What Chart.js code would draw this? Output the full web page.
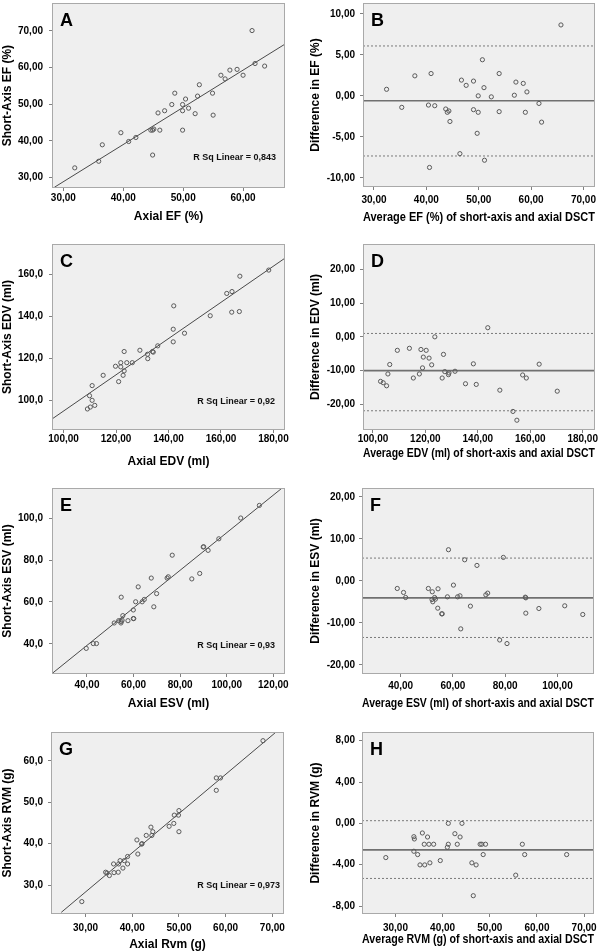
<!DOCTYPE html>
<html>
<head>
<meta charset="utf-8">
<script src="https://cdn.jsdelivr.net/npm/chart.js@4/dist/chart.umd.min.js"></script>
<style>
  html, body { margin: 0; padding: 0; background: #ffffff; }
  #wrap { position: relative; width: 609px; height: 952px; overflow: hidden; }
  .pan { position: absolute; }
</style>
</head>
<body>
<div id="wrap"></div>
<script>
// ---------- DATA ----------
// Panel A: Axial EF vs Short-Axis EF
const aX = [31.9,35.9,36.5,39.6,40.9,42.1,44.6,44.9,45.1,44.9,46.1,45.8,46.9,48.1,48.6,49.9,49.9,49.9,50.4,50.9,52.0,52.4,52.7,54.9,55.0,56.3,57.0,57.8,59.0,60.0,61.5,62.0,63.6];
const aY = [32.6,34.4,38.9,42.2,39.8,40.9,42.9,42.9,43.2,36.1,42.9,47.6,48.2,49.9,53.0,49.9,48.2,42.9,51.4,48.9,47.4,52.2,55.3,53.0,47.0,57.9,56.9,59.3,59.5,57.9,70.1,61.1,60.4];
const aFitX = [28.5, 67.0];
const aFitY = [27.3, 66.4];
const aRsq = "R Sq Linear = 0,843";
const aXTicks = ["30,00","40,00","50,00","60,00"];
const aYTicks = ["30,00","40,00","50,00","60,00","70,00"];

// Panel B: Bland-Altman EF
const bX = [32.4,35.3,37.8,40.4,40.9,40.6,41.6,43.7,44.0,44.3,44.5,46.7,46.4,47.6,49.0,49.0,49.7,49.9,49.9,50.7,51.0,51.1,52.4,53.9,53.9,56.8,57.1,58.5,58.9,59.2,61.5,62.0,65.7];
const bY = [0.8,-1.4,2.44,-1.12,2.72,-8.72,-1.2,-1.6,-2.0,-1.84,-3.12,1.92,-7.04,1.28,1.8,-1.68,-4.56,0,-2.0,4.4,1.0,-7.84,-0.12,2.72,-1.92,0.08,1.68,1.52,-2.0,0.48,-0.92,-3.2,8.64];
const bLimits = [-0.6, 6.08, -7.32];   // mean, upper, lower
const bXTicks = ["30,00","40,00","50,00","60,00","70,00"];
const bYTicks = ["-10,00","-5,00","0,00","5,00","10,00"];

// Panel C: Axial EDV vs Short-Axis EDV
const cX = [109.1,110.2,111.9,109.9,110.9,110.9,115.1,119.8,121.0,121.8,121.8,122.7,123.1,123.1,124.1,126.2,129.1,132.0,132.1,133.9,134.2,135.9,141.8,142.0,141.8,146.1,155.9,162.2,164.2,164.1,167.0,167.2,178.2];
const cY = [95.9,96.8,97.6,102.2,100.0,107.0,111.9,116.2,108.9,117.9,115.9,111.9,114.0,123.2,117.9,117.9,123.8,121.9,119.8,123.2,122.9,125.9,133.8,144.9,127.8,131.9,140.2,150.8,151.7,141.9,142.2,159.0,161.9];
const cFitX = [95.0, 185.0];
const cFitY = [90.6, 168.1];
const cRsq = "R Sq Linear = 0,92";
const cXTicks = ["100,00","120,00","140,00","160,00","180,00"];
const cYTicks = ["100,0","120,0","140,0","160,0"];

// Panel D: Bland-Altman EDV
const dX = [102.9,103.9,105.2,105.7,106.4,109.3,113.9,115.4,117.7,118.3,118.9,119.2,120.3,121.4,122.4,123.6,126.4,126.9,127.4,128.8,129.0,131.3,135.3,138.3,139.4,143.8,148.4,153.4,154.9,157.1,158.5,163.4,170.3];
const dY = [-13.2,-13.6,-14.5,-11.0,-8.2,-4.0,-3.4,-12.2,-11.0,-3.75,-9.2,-6.0,-4.0,-6.3,-8.3,0,-12.2,-5.2,-10.3,-11.2,-10.7,-10.2,-13.9,-8.0,-14.1,2.7,-15.8,-22.1,-24.7,-11.3,-12.2,-8.1,-16.1];
const dLimits = [-10.0, 1.0, -21.9];
const dXTicks = ["100,00","120,00","140,00","160,00","180,00"];
const dYTicks = ["-20,00","-10,00","0,00","10,00","20,00"];

// Panel E: Axial ESV vs Short-Axis ESV
const eX = [39.7,42.7,44.1,51.7,53.6,54.6,54.7,55.1,55.4,54.7,57.6,59.9,60.1,59.9,60.9,62.0,63.7,64.6,67.6,68.7,69.9,74.4,74.9,76.6,85.0,88.4,89.9,90.1,92.0,96.6,106.0,114.0];
const eY = [37.9,40.2,40.2,50.0,51.1,50.0,50.7,51.3,53.5,62.3,51.1,52.1,52.1,56.2,60.1,67.2,60.1,61.2,71.4,57.7,64.0,71.4,72.0,82.3,71.0,73.6,86.2,86.3,84.6,90.1,100.0,106.0];
const eFitX = [25.0, 125.0];
const eFitY = [25.9, 115.4];
const eRsq = "R Sq Linear = 0,93";
const eXTicks = ["40,00","60,00","80,00","100,00","120,00"];
const eYTicks = ["40,0","60,0","80,0","100,0"];

// Panel F: Bland-Altman ESV
const fX = [38.7,41.1,41.9,50.6,52.1,52.0,52.3,53.0,53.3,54.2,54.3,55.7,55.9,57.9,58.3,60.2,61.8,62.7,63.0,64.5,66.7,69.2,72.6,73.3,77.9,79.3,80.7,87.7,87.9,87.9,92.9,102.8,109.7];
const fY = [-1.83,-2.78,-3.98,-1.83,-2.62,-4.45,-5.0,-3.98,-4.37,-6.52,-1.91,-7.87,-7.87,-3.82,7.4,-1.03,-3.82,-3.58,-11.45,5.0,-6.04,3.66,-3.34,-2.94,-14.1,5.57,-14.95,-3.9,-4.06,-7.71,-6.6,-5.96,-8.03];
const fLimits = [-4.06, 5.41, -13.5];
const fXTicks = ["40,00","60,00","80,00","100,00"];
const fYTicks = ["-20,00","-10,00","0,00","10,00","20,00"];

// Panel G: Axial RVM vs Short-Axis RVM
const gX = [29.2,34.3,34.6,35.1,36.0,36.1,37.0,37.1,37.4,38.0,38.3,39.0,39.0,41.0,41.2,42.0,42.1,43.0,44.0,44.2,44.4,47.9,48.9,49.0,49.9,50.0,50.0,58.0,58.0,58.9,68.0];
const gY = [26.0,33.1,32.9,32.3,35.1,33.0,33.1,35.1,35.9,34.1,35.9,35.1,36.9,40.9,37.5,39.9,40.0,42.0,44.0,42.0,42.9,44.2,44.9,46.9,46.9,48.0,42.9,52.9,55.9,55.9,64.9];
const gFitX = [24.8, 70.6];
const gFitY = [23.4, 66.8];
const gRsq = "R Sq Linear = 0,973";
const gXTicks = ["30,00","40,00","50,00","60,00","70,00"];
const gYTicks = ["30,0","40,0","50,0","60,0"];

// Panel H: Bland-Altman RVM
const hX = [27.95,33.9,34.0,33.9,34.7,35.2,35.7,36.1,36.2,36.8,37.1,37.3,38.1,39.5,41.0,41.2,41.2,42.6,43.1,43.7,44.1,46.2,47.1,46.5,47.95,48.3,48.6,49.1,55.5,56.9,57.4,66.3];
const hY = [-3.31,-1.29,-1.51,-2.7,-3.02,-4.02,-0.93,-2.02,-4.02,-1.32,-2.02,-3.82,-2.02,-3.6,-2.31,-2.02,0,-1.0,-2.02,-1.32,0,-3.82,-4.02,-7.0,-2.02,-2.02,-3.02,-2.02,-5.01,-2.02,-3.02,-3.02];
const hLimits = [-2.57, 0.26, -5.33];
const hXTicks = ["30,00","40,00","50,00","60,00","70,00"];
const hYTicks = ["-8,00","-4,00","0,00","4,00","8,00"];

// ---------- RENDERING ----------
const FONT = "'Liberation Sans', Arial, Helvetica, sans-serif";
Chart.defaults.font.family = FONT;
Chart.defaults.color = '#000';

const toVal = s => parseFloat(s.replace(',', '.'));
const pts = (xs, ys) => xs.map((x, i) => ({ x: x, y: ys[i] }));

const deco = {
  id: 'deco',
  beforeDraw(chart, args, o) {
    const { ctx, chartArea: ca } = chart;
    ctx.save();
    ctx.fillStyle = '#efefef';
    ctx.fillRect(ca.left, ca.top, ca.right - ca.left, ca.bottom - ca.top);
    ctx.restore();
  },
  afterDraw(chart, args, o) {
    const { ctx, chartArea: ca } = chart;
    ctx.save();
    ctx.strokeStyle = '#a9a9a9';
    ctx.lineWidth = 1;
    ctx.strokeRect(Math.round(ca.left) + 0.5, Math.round(ca.top) + 0.5,
                   Math.round(ca.right - ca.left) - 1, Math.round(ca.bottom - ca.top) - 1);
    ctx.fillStyle = '#000';
    ctx.font = 'bold 18px ' + FONT;
    ctx.textAlign = 'left';
    ctx.textBaseline = 'alphabetic';
    ctx.fillText(o.letter, ca.left + 8, ca.top + 23);
    if (o.rsq) {
      ctx.font = 'bold 9px ' + FONT;
      ctx.textAlign = 'right';
      ctx.textBaseline = 'middle';
      ctx.fillStyle = '#111';
      ctx.fillText(o.rsq, ca.right - o.rsqRight, ca.bottom - o.rsqUp);
    }
    ctx.restore();
  }
};

function panel(p) {
  const div = document.createElement('div');
  div.className = 'pan';
  div.style.left = p.left + 'px';
  div.style.top = p.top + 'px';
  div.style.width = p.w + 'px';
  div.style.height = p.h + 'px';
  const cv = document.createElement('canvas');
  cv.width = p.w; cv.height = p.h;
  cv.style.width = p.w + 'px'; cv.style.height = p.h + 'px';
  div.appendChild(cv);
  document.getElementById('wrap').appendChild(div);

  const datasets = [{
    label: 'points',
    data: pts(p.xs, p.ys),
    showLine: false,
    pointRadius: 2.1,
    pointHoverRadius: 2.1,
    pointBorderWidth: 1,
    pointBorderColor: '#5a5a5a',
    pointBackgroundColor: 'rgba(0,0,0,0)'
  }];
  if (p.fitX) {
    datasets.push({
      label: 'fit', data: pts(p.fitX, p.fitY), showLine: true,
      borderColor: '#4a4a4a', borderWidth: 1, pointRadius: 0
    });
  }
  if (p.limits) {
    const [m, up, lo] = p.limits;
    datasets.push({ label: 'mean', data: [{x: p.xr[0], y: m}, {x: p.xr[1], y: m}], showLine: true,
      borderColor: '#707070', borderWidth: 1.6, pointRadius: 0 });
    datasets.push({ label: 'upper', data: [{x: p.xr[0], y: up}, {x: p.xr[1], y: up}], showLine: true,
      borderColor: '#7a7a7a', borderWidth: 1, borderDash: [2, 2], pointRadius: 0 });
    datasets.push({ label: 'lower', data: [{x: p.xr[0], y: lo}, {x: p.xr[1], y: lo}], showLine: true,
      borderColor: '#7a7a7a', borderWidth: 1, borderDash: [2, 2], pointRadius: 0 });
  }

  const xVals = p.xTicks.map(toVal), yVals = p.yTicks.map(toVal);
  const tickFont = { size: 10, weight: 'bold', family: FONT };
  const titleFont = { size: 12, weight: 'bold', family: FONT, lineHeight: 1.2 };

  new Chart(cv, {
    type: 'scatter',
    data: { datasets },
    plugins: [deco],
    options: {
      responsive: false,
      animation: false,
      devicePixelRatio: 1,
      events: [],
      layout: { padding: { left: 0, top: p.padTop, right: p.padRight, bottom: p.padBottom } },
      plugins: {
        legend: { display: false },
        tooltip: { enabled: false },
        deco: { letter: p.letter, rsq: p.rsq, rsqRight: p.rsqRight || 9, rsqUp: p.rsqUp || 29 }
      },
      scales: {
        x: {
          type: 'linear', min: p.xr[0], max: p.xr[1],
          afterBuildTicks: s => { s.ticks = xVals.map(v => ({ value: v })); },
          afterFit: s => { s.height = p.xAxisH; s.paddingLeft = 0; s.paddingRight = 0; s.paddingTop = 0; s.paddingBottom = 0; },
          ticks: { autoSkip: false, maxRotation: 0, minRotation: 0, padding: p.xTickPad,
                   font: tickFont, color: '#000', callback: (v, i) => p.xTicks[i] },
          grid: { display: true, drawOnChartArea: false, drawTicks: true, tickLength: 3, color: '#808080' },
          border: { display: false },
          title: { display: true, text: p.xTitle, font: titleFont, color: '#000', padding: { top: 0, bottom: 0 } }
        },
        y: {
          type: 'linear', min: p.yr[0], max: p.yr[1],
          afterBuildTicks: s => { s.ticks = yVals.map(v => ({ value: v })); },
          afterFit: s => { s.width = p.yAxisW; s.paddingLeft = 0; s.paddingRight = 0; s.paddingTop = 0; s.paddingBottom = 0; },
          ticks: { autoSkip: false, padding: p.yTickPad, font: tickFont, color: '#000',
                   callback: (v, i) => p.yTicks[i] },
          grid: { display: true, drawOnChartArea: false, drawTicks: true, tickLength: 3, color: '#808080' },
          border: { display: false },
          title: { display: true, text: p.yTitle, font: titleFont, color: '#000', padding: { top: p.yTitlePad, bottom: 0 } }
        }
      }
    }
  });
}

panel({ letter: 'A', left: 0, top: 0, w: 305, h: 235, padTop: 1, padRight: 20, padBottom: 11,
  yAxisW: 52, xAxisH: 36, xTickPad: 1, yTickPad: 6, yTitlePad: 0,
  xs: aX, ys: aY, fitX: aFitX, fitY: aFitY, rsq: aRsq, rsqRight: 9, rsqUp: 30,
  xr: [28.1, 67.0], yr: [27.1, 77.6], xTicks: aXTicks, yTicks: aYTicks,
  xTitle: 'Axial EF (%)', yTitle: 'Short-Axis EF (%)' });

panel({ letter: 'B', left: 305, top: 0, w: 304, h: 235, padTop: 0, padRight: 14, padBottom: 10,
  yAxisW: 58, xAxisH: 38, xTickPad: 4, yTickPad: 5, yTitlePad: 3,
  xs: bX, ys: bY, limits: bLimits,
  xr: [27.9, 72.2], yr: [-11.1, 11.3], xTicks: bXTicks, yTicks: bYTicks,
  xTitle: 'Average EF (%) of short-axis and axial DSCT', yTitle: 'Difference in EF (%)' });

panel({ letter: 'C', left: 0, top: 235, w: 305, h: 235, padTop: 9, padRight: 20, padBottom: 1,
  yAxisW: 52, xAxisH: 39, xTickPad: 0, yTickPad: 6, yTitlePad: 0,
  xs: cX, ys: cY, fitX: cFitX, fitY: cFitY, rsq: cRsq, rsqRight: 10, rsqUp: 28,
  xr: [95.6, 184.4], yr: [85.9, 174.3], xTicks: cXTicks, yTicks: cYTicks,
  xTitle: 'Axial EDV (ml)', yTitle: 'Short-Axis EDV (ml)' });

panel({ letter: 'D', left: 305, top: 235, w: 304, h: 235, padTop: 9, padRight: 14, padBottom: 9,
  yAxisW: 58, xAxisH: 31, xTickPad: 0, yTickPad: 5, yTitlePad: 3,
  xs: dX, ys: dY, limits: dLimits,
  xr: [96.2, 184.7], yr: [-27.6, 27.5], xTicks: dXTicks, yTicks: dYTicks,
  xTitle: 'Average EDV (ml) of short-axis and axial DSCT', yTitle: 'Difference in EDV (ml)' });

panel({ letter: 'E', left: 0, top: 470, w: 305, h: 245, padTop: 18, padRight: 20, padBottom: 4,
  yAxisW: 52, xAxisH: 37, xTickPad: 2, yTickPad: 6, yTitlePad: 0,
  xs: eX, ys: eY, fitX: eFitX, fitY: eFitY, rsq: eRsq, rsqRight: 10, rsqUp: 28,
  xr: [25.0, 125.0], yr: [25.7, 114.3], xTicks: eXTicks, yTicks: eYTicks,
  xTitle: 'Axial ESV (ml)', yTitle: 'Short-Axis ESV (ml)' });

panel({ letter: 'F', left: 305, top: 470, w: 304, h: 245, padTop: 18, padRight: 15, padBottom: 4,
  yAxisW: 57, xAxisH: 37, xTickPad: 3, yTickPad: 4, yTitlePad: 3,
  xs: fX, ys: fY, limits: fLimits,
  xr: [25.2, 114.0], yr: [-22.2, 22.1], xTicks: fXTicks, yTicks: fYTicks,
  xTitle: 'Average ESV (ml) of short-axis and axial DSCT', yTitle: 'Difference in ESV (ml)' });

panel({ letter: 'G', left: 0, top: 710, w: 305, h: 242, padTop: 22, padRight: 21, padBottom: 0,
  yAxisW: 51, xAxisH: 38, xTickPad: 5, yTickPad: 5, yTitlePad: 0,
  xs: gX, ys: gY, fitX: gFitX, fitY: gFitY, rsq: gRsq, rsqRight: 4, rsqUp: 28,
  xr: [22.6, 72.5], yr: [23.0, 67.0], xTicks: gXTicks, yTicks: gYTicks,
  xTitle: 'Axial Rvm (g)', yTitle: 'Short-Axis RVM (g)' });

panel({ letter: 'H', left: 305, top: 710, w: 304, h: 242, padTop: 22, padRight: 15, padBottom: 5,
  yAxisW: 57, xAxisH: 33, xTickPad: 5, yTickPad: 4, yTitlePad: 3,
  xs: hX, ys: hY, limits: hLimits,
  xr: [22.9, 72.1], yr: [-8.77, 8.84], xTicks: hXTicks, yTicks: hYTicks,
  xTitle: 'Average RVM (g) of short-axis and axial DSCT', yTitle: 'Difference in RVM (g)' });
</script>
</body>
</html>
